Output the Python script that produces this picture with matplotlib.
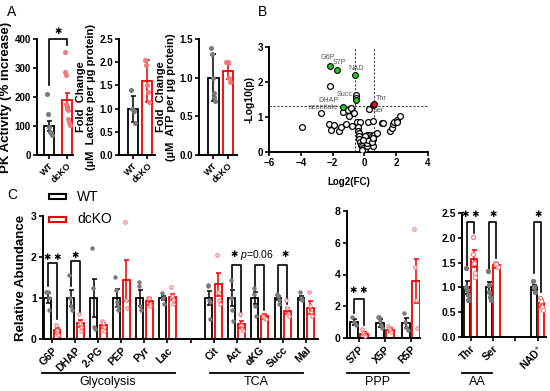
import numpy as np
import matplotlib
matplotlib.use("Agg")
import matplotlib.pyplot as plt
from matplotlib.patches import Rectangle
from matplotlib.lines import Line2D

plt.rcParams['font.family'] = ['Liberation Sans', 'DejaVu Sans']
plt.rcParams['mathtext.fontset'] = 'custom'
plt.rcParams['mathtext.it'] = 'Liberation Sans:italic'
plt.rcParams['mathtext.rm'] = 'Liberation Sans'

W, H = 550, 391
RED = '#f00000'
PINK = '#f47a7a'
GRAY = '#7a7a7a'
STAR = '✱'

# ---------------- data ----------------
# panel A
groups_a = ['WT', 'dcKO']
pk_mean = [100, 190]
pk_err = [17, 25]
pk_pts = [[210, 140, 95, 80, 75, 70], [355, 285, 275, 175, 160, 155, 125, 110, 105]]

lac_mean = [1.0, 1.6]
lac_err = [0.28, 0.45]
lac_pts = [[1.4, 1.0, 0.95, 0.7], [2.05, 1.95, 1.5, 1.35, 1.15]]

atp_mean = [1.0, 1.08]
atp_err = [0.3, 0.1]
atp_pts = [[1.38, 1.3, 1.0, 0.8, 0.75, 0.7], [1.2, 1.2, 1.2, 1.0, 0.95]]

# panel B volcano
volc_x = [-3.92, -2.74, -2.15, -2.23, -2.08, -1.89, -1.58, -1.45, -1.35, -1.16, -1.03,
          -0.95, -0.86, -0.80, -0.63, -0.53, -0.50, -0.46, -0.27, 0.27, 0.21, 0.53, 1.09,
          1.20, 1.62, 1.71, 1.79, 1.89, 2.04, 2.08, 2.23,
          -0.42, -0.38, -0.36, -0.34, -0.32, -0.27, -0.21, -0.15, -0.06, 0.0, 0.06, 0.15,
          0.19, 0.25, 0.19, 0.36, 0.48, 0.57, 0.61, 0.53, 0.80, 0.04, -0.10, -0.17, 0.45, 0.55]
volc_y = [0.71, 1.11, 1.90, 0.80, 0.64, 0.76, 0.61, 0.72, 1.13, 0.81, 1.21,
          1.02, 1.27, 0.75, 1.11, 1.62, 1.55, 0.86, 0.86, 1.22, 0.86, 0.88, 0.84,
          0.83, 0.59, 0.68, 0.81, 0.87, 0.92, 0.85, 1.02,
          0.71, 0.61, 0.54, 0.45, 0.37, 0.28, 0.21, 0.16, 0.11, 0.07, 0.09, 0.16,
          0.26, 0.35, 0.49, 0.49, 0.45, 0.37, 0.49, 0.18, 0.54, 0.45, 0.35, 0.05, 0.30, 0.40]
sig_down_x = [-2.15, -1.70, -0.60, -0.55, -1.35]
sig_down_y = [2.45, 2.35, 2.20, 1.50, 1.30]
sig_up_x = [0.55, 0.62]
sig_up_y = [1.33, 1.36]
volc_names = ['G6P', 'S7P', 'NAD', 'Succ', 'DHAP', 'aconitate', 'Thr', 'Ser']
volc_lab_x = [-2.27, -1.55, -0.50, -1.22, -2.27, -2.55, 1.09, 0.88]
volc_lab_y = [2.70, 2.55, 2.38, 1.63, 1.46, 1.26, 1.54, 1.20]

# panel C
glyc_tca = ['G6P', 'DHAP', '2-PG', 'PEP', 'Pyr', 'Lac', '', 'Cit', 'Act', 'αKG', 'Succ', 'Mal']
gt_wt_mean = [1, 1, 1, 1, 1, 1, None, 1, 1, 1, 1, 1]
gt_wt_err = [0.12, 0.2, 0.47, 0.22, 0.2, 0.05, None, 0.18, 0.2, 0.15, 0.06, 0.05]
gt_ko_mean = [0.21, 0.38, 0.33, 1.43, 0.92, 1.02, None, 1.33, 0.36, 0.55, 0.68, 0.76]
gt_ko_err = [0.07, 0.09, 0.07, 0.5, 0.08, 0.08, None, 0.27, 0.09, 0.05, 0.08, 0.16]
gt_wt_pts = [[1.15, 1.15, 1.15, 1.0, 0.7], [1.55, 1.0, 0.8, 0.7], [2.22, 1.25, 0.3, 0.25],
             [1.52, 1.2, 0.9, 0.8, 0.7], [1.4, 1.3, 0.8, 0.7], [1.13, 1.0, 0.85], None,
             [1.3, 1.32, 0.95, 0.9, 0.5], [1.45, 1.0, 0.7, 0.45], [1.25, 1.1, 0.8, 0.55],
             [1.1, 1.08, 1.05, 0.95, 0.85], [1.15, 1.0, 0.95]]
gt_ko_pts = [[0.35, 0.22, 0.15, 0.1], [0.6, 0.38, 0.3, 0.2], [0.45, 0.38, 0.3, 0.2],
             [2.85, 0.95, 0.75], [1.0, 1.0, 1.0, 0.85, 0.8], [1.27, 1.05, 0.95, 0.85], None,
             [2.05, 1.15, 0.95, 0.85], [0.6, 0.35, 0.25, 0.2], [0.57, 0.52, 0.5],
             [0.95, 0.75, 0.6, 0.55], [1.15, 0.8, 0.65, 0.55]]

ppp = ['S7P', 'X5P', 'R5P']
ppp_wt_mean = [1.0, 0.95, 0.95]
ppp_wt_err = [0.2, 0.25, 0.3]
ppp_ko_mean = [0.28, 0.5, 3.6]
ppp_ko_err = [0.07, 0.1, 1.37]
ppp_wt_pts = [[1.3, 1.0, 0.85], [1.35, 1.35, 1.1, 0.8, 0.6], [1.6, 1.0, 0.7, 0.5]]
ppp_ko_pts = [[0.55, 0.3, 0.2, 0.15], [0.75, 0.65, 0.5, 0.4], [6.85, 4.5, 2.4, 0.6]]

aa = ['Thr', 'Ser', '', 'NAD$^{+}$']
aa_wt_mean = [1.0, 1.0, None, 1.0]
aa_wt_err = [0.13, 0.1, None, 0.05]
aa_ko_mean = [1.58, 1.45, None, 0.68]
aa_ko_err = [0.17, 0.05, None, 0.07]
aa_wt_pts = [[1.4, 1.0, 0.95, 0.85, 0.75], [1.33, 1.05, 0.9, 0.8, 0.75], None, [1.13, 1.0, 0.9]]
aa_ko_pts = [[2.02, 1.68, 1.5, 1.3, 1.2], [1.5, 1.47, 1.42], None, [0.78, 0.72, 0.6, 0.55]]


def px_axes(fig, x0, y0, x1, y1):
    # pixel box (top-left origin) -> axes
    return fig.add_axes([x0 / W, 1 - y1 / H, (x1 - x0) / W, (y1 - y0) / H])


def style(ax, fs=7):
    for s in ['top', 'right']:
        ax.spines[s].set_visible(False)
    for s in ['left', 'bottom']:
        ax.spines[s].set_linewidth(1.4)
    ax.tick_params(width=1.2, length=3, labelsize=fs, pad=1.5)
    for lab in ax.get_yticklabels():
        lab.set_fontweight('bold')


def jitter(n, w):
    if n == 1:
        return np.zeros(1)
    return np.linspace(-w, w, n)


def bar_pair(ax, x, m, e, pts, color, pcol, width, jw, ms=2.6, face=None):
    ax.bar(x, m, width, color='white', edgecolor=color, linewidth=1.3, zorder=2)
    ax.errorbar(x, m, yerr=e, color=color, capsize=1.8, elinewidth=1.1, capthick=1.1,
                fmt='none', zorder=3)
    ax.plot(x + jitter(len(pts), jw), pts, 'o', ms=ms, mfc=face if face else pcol,
            mec=pcol, mew=0.8, zorder=4, clip_on=False)


def bracket(ax, x1, x2, y1, y2, top, txt, ty, fs=6.3, tx=None):
    ax.plot([x1, x1, x2, x2], [y1, top, top, y2], color='black', lw=1.2, clip_on=False)
    if tx is None:
        tx = (x1 + x2) / 2
    ax.text(tx, ty, txt, ha='center', va='center', fontsize=fs, clip_on=False,
            family='DejaVu Sans')


fig = plt.figure(figsize=(W / 100, H / 100), dpi=100)

# ---------------- panel A ----------------
a_specs = [
    (37, 73, (-0.67, 1.33), 0.6, 400, 100, pk_mean, pk_err, pk_pts,
     'PK Activity (% increase)', 9.5),
    (119, 155, (-1.0, 1.55), 0.72, 2.5, 0.5, lac_mean, lac_err, lac_pts,
     'Fold  Change\n(µM  Lactate per µg protein)', 8),
    (199, 237, (-0.95, 1.6), 0.72, 1.5, 0.5, atp_mean, atp_err, atp_pts,
     'Fold  Change\n(µM  ATP per µg protein)', 8),
]
a_axes = []
for x0, x1, xl, bw, ymax, step, mean, err, pts, ylab, lfs in a_specs:
    ax = px_axes(fig, x0, 39, x1, 155)
    for i in range(2):
        col = 'black' if i == 0 else RED
        pc = GRAY if i == 0 else PINK
        bar_pair(ax, i, mean[i], err[i], pts[i], col, pc, bw, 0.14, ms=2.8)
    ax.set_xlim(*xl)
    ax.set_ylim(0, ymax)
    ax.set_yticks(np.arange(0, ymax + step / 2, step))
    if ymax == 400:
        ax.set_yticklabels([str(int(v)) for v in np.arange(0, 401, 100)])
    ax.set_xticks([0, 1])
    ax.set_xticklabels(groups_a, rotation=45, ha='right', rotation_mode='anchor',
                       fontweight='bold')
    style(ax, 7)
    ax.tick_params(axis='x', labelsize=6.5)
    ax.set_ylabel(ylab, fontsize=lfs, fontweight='bold', labelpad=2, linespacing=1.1)
    a_axes.append(ax)
bracket(a_axes[0], 0, 1, 240, 380, 400, STAR, 425)

# ---------------- panel B ----------------
bx = px_axes(fig, 269, 47, 428, 152)
bx.plot(volc_x, volc_y, 'o', ms=4.2, mfc='white', mec='black', mew=0.9, zorder=3)
bx.plot(sig_down_x, sig_down_y, 'o', ms=4.2, mfc='#22cc22', mec='black', mew=0.8, zorder=4)
bx.plot(sig_up_x, sig_up_y, 'o', ms=4.2, mfc='#dd1111', mec='black', mew=0.8, zorder=4)
bx.axvline(-0.585, color='#444444', lw=0.8, ls=(0, (2, 1.5)), zorder=1)
bx.axvline(0.585, color='#444444', lw=0.8, ls=(0, (2, 1.5)), zorder=1)
bx.axhline(1.301, color='#444444', lw=0.8, ls=(0, (2, 1.5)), zorder=1)
for name, lx, ly in zip(volc_names, volc_lab_x, volc_lab_y):
    bx.text(lx, ly, name, fontsize=5.2, color='#555555', ha='center', va='center')
bx.set_xlim(-6, 4)
bx.set_ylim(0, 3)
bx.set_xticks([-6, -4, -2, 0, 2, 4])
bx.set_yticks([0, 1, 2, 3])
style(bx, 7)
for lab in bx.get_xticklabels():
    lab.set_fontweight('bold')
bx.set_xlabel('Log2(FC)', fontsize=7, fontweight='bold', labelpad=6)
bx.set_ylabel('-Log10(p)', fontsize=7.5, fontweight='bold', labelpad=2)

# ---------------- panel C ----------------
def c_panel(x0, y0, x1, y1, xl, cats, wm, we, km, ke, wp, kp, ymax, step, off, bw, ms, face_ko):
    ax = px_axes(fig, x0, y0, x1, y1)
    for i in range(len(cats)):
        if wm[i] is None:
            continue
        bar_pair(ax, i - off, wm[i], we[i], wp[i], 'black', GRAY, bw, 0.06, ms=ms)
        bar_pair(ax, i + off, km[i], ke[i], kp[i], RED, PINK, bw, 0.06, ms=ms,
                 face=face_ko)
    ax.set_xlim(*xl)
    ax.set_ylim(0, ymax)
    ax.set_yticks(np.arange(0, ymax + step / 2, step))
    ax.set_xticks(range(len(cats)))
    ax.set_xticklabels(cats, rotation=45, ha='right', rotation_mode='anchor',
                       fontweight='bold', fontsize=7.5)
    style(ax, 7.5)
    return ax


c1 = c_panel(43, 216, 318, 339, (-0.41, 11.54), glyc_tca, gt_wt_mean, gt_wt_err,
             gt_ko_mean, gt_ko_err, gt_wt_pts, gt_ko_pts, 3, 1, 0.2, 0.3, 2.4, 'white')
c1.set_yticklabels(['0', '1', '2', '3'], fontweight='bold')
c1.set_ylabel('Relative Abundance', fontsize=9.5, fontweight='bold', labelpad=3)
bracket(c1, -0.2, 0.2, 1.3, 0.5, 1.85, STAR + ' ' + STAR, 2.0)
bracket(c1, 0.8, 1.2, 1.3, 0.6, 1.9, STAR, 2.03)
bracket(c1, 7.8, 8.2, 1.25, 0.56, 1.81, STAR, 2.05, tx=7.9)
bracket(c1, 8.8, 9.2, 1.2, 0.7, 1.81, '', 2.05)
c1.text(8.9, 2.05, '$p$=0.06', fontsize=7.5, ha='center', va='center')
bracket(c1, 9.8, 10.2, 1.12, 0.85, 1.81, STAR, 2.05, tx=10.1)

c2 = c_panel(347, 211, 420, 338, (-0.46, 2.35), ppp, ppp_wt_mean, ppp_wt_err,
             ppp_ko_mean, ppp_ko_err, ppp_wt_pts, ppp_ko_pts, 8, 2, 0.19, 0.3, 2.4, 'white')
bracket(c2, -0.19, 0.19, 1.6, 0.8, 2.48, STAR + ' ' + STAR, 3.0)

c3 = c_panel(462, 213, 546, 337, (-0.38, 3.37), aa, aa_wt_mean, aa_wt_err,
             aa_ko_mean, aa_ko_err, aa_wt_pts, aa_ko_pts, 2.5, 0.5, 0.16, 0.27, 3.0, 'white')
c3.set_yticklabels(['0.0', '0.5', '1.0', '1.5', '2.0', '2.5'], fontweight='bold')
bracket(c3, -0.16, 0.16, 1.35, 2.1, 2.31, STAR + ' ' + STAR, 2.47)
bracket(c3, 0.84, 1.16, 1.35, 1.6, 2.31, STAR, 2.47)
bracket(c3, 2.84, 3.16, 1.3, 0.9, 2.31, STAR, 2.47)


def group_line(x0, x1, label, cx):
    y = 1 - 373 / H
    fig.add_artist(Line2D([x0 / W, x1 / W], [y, y], color='black', lw=1.3,
                          transform=fig.transFigure))
    fig.text(cx / W, 1 - 382 / H, label, ha='center', va='center', fontsize=9)


group_line(42, 175, 'Glycolysis', 108)
group_line(210, 303, 'TCA', 256)
group_line(347, 409, 'PPP', 378)
group_line(462, 492, 'AA', 477)

# legend
for yy, col, name in [(197, 'black', 'WT'), (219, RED, 'dcKO')]:
    fig.add_artist(Rectangle((49 / W, 1 - (yy + 2.5) / H), 17 / W, 5 / H, fill=False,
                             ec=col, lw=1.5, transform=fig.transFigure))
    fig.text(77 / W, 1 - yy / H, name, fontsize=10, va='center', ha='left')

# panel letters
fig.text(7 / W, 1 - 12 / H, 'A', fontsize=10, va='center')
fig.text(258 / W, 1 - 12 / H, 'B', fontsize=10, va='center')
fig.text(7 / W, 1 - 195 / H, 'C', fontsize=10, va='center')

fig.savefig('out.png', dpi=100)
